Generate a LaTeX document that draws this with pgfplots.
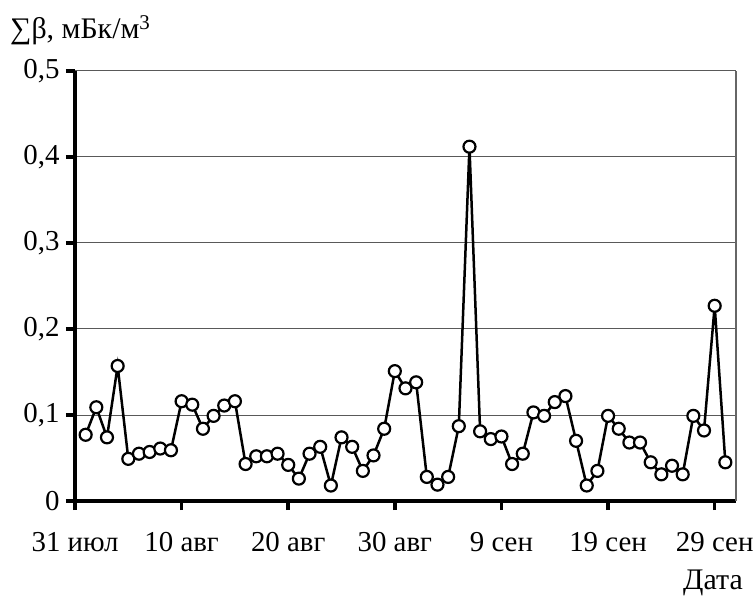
\documentclass[border=0pt]{standalone}
\usepackage{pgfplots}
\pgfplotsset{compat=1.18}
\usepackage{fontspec}
\setmainfont{Liberation Serif}
\begin{document}
\begin{tikzpicture}
\useasboundingbox (-75bp,-98bp) rectangle (680bp,501bp);
\begin{axis}[
  at={(0,0)}, anchor=south west,
  scale only axis, width=661bp, height=430bp,
  xmin=0, xmax=62, ymin=0, ymax=0.5,
  axis lines*=left,
  axis line style={line width=3.5bp, black},
  xtick={0,10,20,30,40,50,60},
  xticklabels={31 июл,10 авг,20 авг,30 авг,9 сен,19 сен,29 сен},
  ytick={0,0.1,0.2,0.3,0.4,0.5},
  /pgf/number format/.cd, use comma, fixed, precision=1, assume math mode=true,
  /pgfplots/.cd,
  tick style={line width=3.5bp, black},
  major tick length=9bp,
  tick align=outside,
  ymajorgrids,
  major grid style={line width=1bp, black!65},
  tick label style={font=\fontsize{29}{32}\selectfont},
  xticklabel style={anchor=base, yshift=-41bp},
  yticklabel style={xshift=-3bp},
  clip=false,
]
\addplot[line width=2.5bp, black, mark=*, mark size=6bp,
  mark options={fill=white, draw=black, line width=2.2bp}]
coordinates {
(1,0.077) (2,0.109) (3,0.074) (4,0.157) (5,0.049) (6,0.055) (7,0.057) (8,0.061) (9,0.059) (10,0.116)
(11,0.112) (12,0.084) (13,0.099) (14,0.111) (15,0.116) (16,0.043) (17,0.052) (18,0.052) (19,0.055) (20,0.042)
(21,0.026) (22,0.055) (23,0.063) (24,0.018) (25,0.074) (26,0.063) (27,0.035) (28,0.053) (29,0.084) (30,0.151)
(31,0.131) (32,0.138) (33,0.028) (34,0.019) (35,0.028) (36,0.087) (37,0.412) (38,0.081) (39,0.072) (40,0.075)
(41,0.043) (42,0.055) (43,0.103) (44,0.099) (45,0.115) (46,0.122) (47,0.070) (48,0.018) (49,0.035) (50,0.099)
(51,0.084) (52,0.068) (53,0.068) (54,0.045) (55,0.031) (56,0.041) (57,0.031) (58,0.099) (59,0.082) (60,0.227)
(61,0.045)
};
\draw[black!60, line width=1.2bp] (rel axis cs:1,0) -- (rel axis cs:1,1);
\end{axis}
\node[anchor=base west, font=\fontsize{30}{32}\selectfont, inner sep=0pt] at (-65bp,462bp) {∑β, мБк/м\textsuperscript{3}};
\node[anchor=base east, font=\fontsize{30}{32}\selectfont, inner sep=0pt] at (668bp,-88bp) {Дата};
\end{tikzpicture}
\end{document}
